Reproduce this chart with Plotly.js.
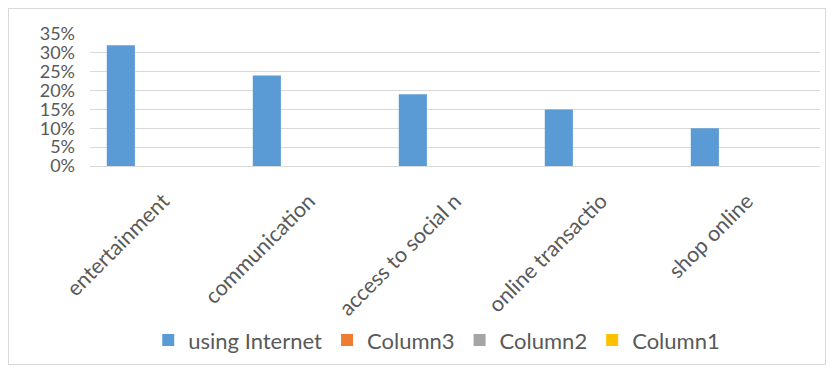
<!DOCTYPE html>
<html><head><meta charset="utf-8">
<script src="https://cdn.plot.ly/plotly-3.0.1.min.js"></script>
<style>
html,body{margin:0;padding:0;background:#fff;}
#wrap{position:relative;width:836px;height:373px;}
#chart{position:absolute;left:0;top:0;width:836px;height:373px;}
#frame{position:absolute;left:8px;top:8px;width:816px;height:355px;border:1px solid #d9d9d9;pointer-events:none;}
</style></head>
<body><div id="wrap"><div id="chart"></div><div id="frame"></div></div>
<script>
const categories = ["entertainment", "communication", "access to social n", "online transactio", "shop online"];
const usingInternet = [0.32, 0.24, 0.19, 0.15, 0.10];
const column3 = [null, null, null, null, null];
const column2 = [null, null, null, null, null];
const column1 = [null, null, null, null, null];
const seriesNames = ["using Internet", "Column3", "Column2", "Column1"];
const seriesColors = ["#5b9bd5", "#ed7d31", "#a5a5a5", "#ffc000"];
const seriesData = [usingInternet, column3, column2, column1];
const yTicks = [0, 0.05, 0.10, 0.15, 0.20, 0.25, 0.30, 0.35];

const traces = seriesData.map((d, i) => ({
  type: "bar", x: categories, y: d, name: seriesNames[i],
  marker: {color: seriesColors[i]}, hoverinfo: "none"
}));

const font = "Lato, Calibri, 'Open Sans', sans-serif";
const layout = {
  width: 836, height: 373,
  margin: {l: 90, r: 16, t: 34, b: 207},
  paper_bgcolor: "rgba(0,0,0,0)", plot_bgcolor: "#fff",
  barmode: "group", bargap: 0.23, bargroupgap: 0,
  font: {family: font, color: "#595959"},
  xaxis: {
    type: "category", tickangle: -45, tickfont: {size: 21.5, color: "#595959", family: font},
    showgrid: false, showline: true, linecolor: "#d9d9d9", linewidth: 1, ticks: "",
    ticklabelstandoff: 13, automargin: false
  },
  yaxis: {
    range: [0, 0.35], tickvals: yTicks, tickformat: ".0%",
    tickfont: {size: 18, color: "#595959", family: font},
    showgrid: true, gridcolor: "#d9d9d9", gridwidth: 1, zeroline: false, showline: false,
    ticks: "", ticklabelstandoff: 14, automargin: false
  },
  showlegend: true,
  legend: {orientation: "h", x: 0.475, xanchor: "center", y: -1.32, yanchor: "middle",
    font: {size: 22, color: "#595959", family: font}, itemwidth: 30, tracegroupgap: 0, itemclick: false},
};
Plotly.newPlot("chart", traces, layout, {displayModeBar: false, staticPlot: true});
</script></body></html>
